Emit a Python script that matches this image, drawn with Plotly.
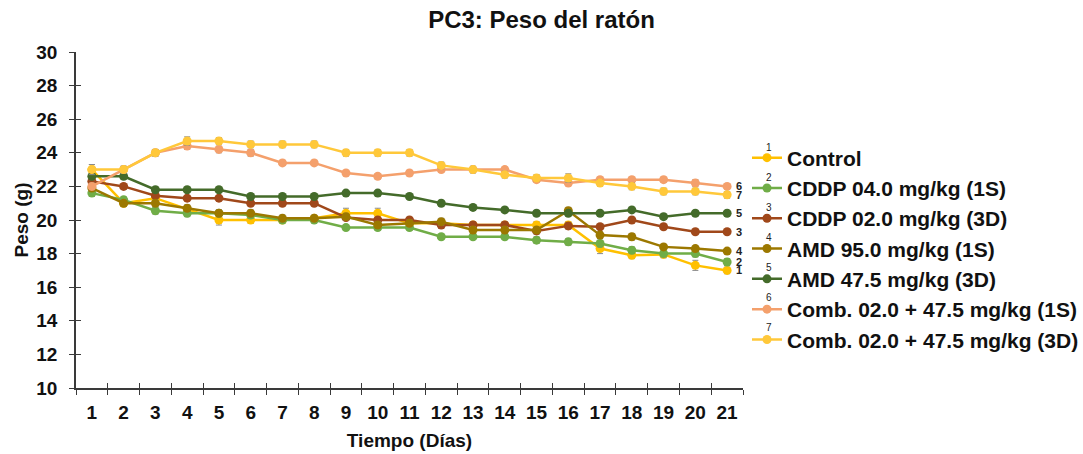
import plotly.graph_objects as go

# Days of treatment
days = [str(d) for d in range(1, 22)]

# Mean body weight (g) per group
control = [23.0, 21.0, 21.3, 20.65, 20.0, 20.0, 20.0, 20.1, 20.4, 20.4, 19.8,
           19.8, 19.7, 19.7, 19.7, 19.7, 18.3, 17.9, 17.95, 17.3, 17.0]
cddp_40_1s = [21.6, 21.2, 20.55, 20.4, 20.4, 20.3, 20.0, 20.0, 19.55, 19.55, 19.55,
              19.0, 19.0, 19.0, 18.8, 18.7, 18.6, 18.2, 18.0, 18.0, 17.5]
cddp_20_3d = [22.3, 22.0, 21.45, 21.3, 21.3, 21.0, 21.0, 21.0, 20.15, 20.0, 20.0,
              19.7, 19.7, 19.7, 19.35, 19.65, 19.6, 20.0, 19.6, 19.3, 19.3]
amd_950_1s = [21.9, 21.0, 21.0, 20.7, 20.4, 20.4, 20.1, 20.1, 20.2, 19.7, 19.8,
              19.9, 19.4, 19.4, 19.4, 20.55, 19.1, 19.0, 18.4, 18.3, 18.15]
amd_475_3d = [22.6, 22.6, 21.8, 21.8, 21.8, 21.4, 21.4, 21.4, 21.6, 21.6, 21.4,
              21.0, 20.75, 20.6, 20.4, 20.4, 20.4, 20.6, 20.2, 20.4, 20.4]
comb_1s = [22.0, 23.0, 24.0, 24.4, 24.2, 24.0, 23.4, 23.4, 22.8, 22.6, 22.8,
           23.0, 23.0, 23.0, 22.4, 22.2, 22.4, 22.4, 22.4, 22.2, 22.0]
comb_3d = [23.0, 23.0, 24.0, 24.7, 24.7, 24.5, 24.5, 24.5, 24.0, 24.0, 24.0,
           23.25, 23.0, 22.7, 22.5, 22.5, 22.2, 22.0, 21.7, 21.7, 21.5]

# Standard error per group
err_control = [0.3, 0.2, 0.15, 0.2, 0.3, 0.2, 0.15, 0.15, 0.3, 0.3, 0.2,
               0.2, 0.2, 0.2, 0.2, 0.2, 0.3, 0.2, 0.2, 0.3, 0.2]
err_cddp_40 = [0.2, 0.2, 0.2, 0.2, 0.2, 0.2, 0.15, 0.15, 0.15, 0.15, 0.15,
               0.15, 0.15, 0.15, 0.2, 0.2, 0.2, 0.2, 0.2, 0.2, 0.2]
err_cddp_20 = [0.2, 0.15, 0.15, 0.15, 0.15, 0.15, 0.15, 0.15, 0.15, 0.15, 0.15,
               0.2, 0.2, 0.2, 0.2, 0.2, 0.15, 0.15, 0.15, 0.15, 0.15]
err_amd_950 = [0.2, 0.2, 0.2, 0.2, 0.2, 0.2, 0.2, 0.2, 0.2, 0.2, 0.2,
               0.2, 0.2, 0.2, 0.2, 0.2, 0.2, 0.2, 0.15, 0.15, 0.15]
err_amd_475 = [0.2, 0.15, 0.15, 0.15, 0.15, 0.15, 0.15, 0.15, 0.15, 0.15, 0.15,
               0.15, 0.15, 0.15, 0.15, 0.15, 0.15, 0.15, 0.15, 0.15, 0.15]
err_comb_1s = [0.2, 0.2, 0.2, 0.2, 0.2, 0.2, 0.15, 0.15, 0.15, 0.15, 0.15,
               0.15, 0.15, 0.15, 0.15, 0.15, 0.15, 0.15, 0.15, 0.2, 0.15]
err_comb_3d = [0.3, 0.2, 0.2, 0.25, 0.2, 0.2, 0.2, 0.2, 0.2, 0.2, 0.2,
               0.2, 0.2, 0.2, 0.2, 0.25, 0.2, 0.2, 0.2, 0.2, 0.2]

groups = [
    ("Control", control, err_control, "#FFC000", "1"),
    ("CDDP 04.0 mg/kg (1S)", cddp_40_1s, err_cddp_40, "#70AD47", "2"),
    ("CDDP 02.0 mg/kg (3D)", cddp_20_3d, err_cddp_20, "#A0481A", "3"),
    ("AMD 95.0 mg/kg (1S)", amd_950_1s, err_amd_950, "#9C7800", "4"),
    ("AMD 47.5 mg/kg (3D)", amd_475_3d, err_amd_475, "#446B2A", "5"),
    ("Comb. 02.0 + 47.5 mg/kg (1S)", comb_1s, err_comb_1s, "#F4A06C", "6"),
    ("Comb. 02.0 + 47.5 mg/kg (3D)", comb_3d, err_comb_3d, "#FFC83A", "7"),
]

FONT = "Liberation Sans, Arial, sans-serif"
AXIS = "#3a3a3a"

# Figure geometry (pixels)
W, H = 1083, 454
ML, MR, MT, MB = 76, 340, 52, 66
PW, PH = W - ML - MR, H - MT - MB

# Category span with the ticks on the boundaries
x_range = [-0.5, len(days) - 0.5]


def to_paper(px, py):
    return (px - ML) / PW, (H - MB - py) / PH


fig = go.Figure()
for name, vals, err, color, tag in groups:
    fig.add_trace(go.Scatter(
        x=days, y=vals, name=f"<b>{name}</b>", mode="lines+markers",
        line=dict(color=color, width=2.5),
        marker=dict(color=color, size=9, symbol="circle"),
        error_y=dict(type="data", array=err, color="#8a8a8a",
                     thickness=1, width=3),
    ))

annotations = []
# Group number at the end of each line
last = len(days) - 1
for name, vals, err, color, tag in groups:
    annotations.append(dict(
        x=last, y=vals[-1], xref="x", yref="y", text=f"<b>{tag}</b>",
        showarrow=False, xanchor="left", xshift=7,
        font=dict(family=FONT, size=11, color="#222222"),
    ))

# Small group numbers above the legend symbols
legend_rows = [159, 189, 219, 249, 279, 309, 339]
for (name, vals, err, color, tag), yp in zip(groups, legend_rows):
    ax, ay = to_paper(769, yp - 12)
    annotations.append(dict(
        x=ax, y=ay, xref="paper", yref="paper",
        text=tag, showarrow=False, xanchor="center", yanchor="middle",
        font=dict(family=FONT, size=10, color="#222222"),
    ))

lx, ly = to_paper(747, 249)

fig.update_layout(
    width=W, height=H,
    margin=dict(l=ML, r=MR, t=MT, b=MB, autoexpand=False),
    paper_bgcolor="white", plot_bgcolor="white",
    font=dict(family=FONT, color="#111111"),
    title=dict(text="<b>PC3: Peso del ratón</b>", x=0.5, xref="container",
               y=1 - 20 / H, yref="container", yanchor="middle",
               font=dict(family=FONT, size=24, color="#111111")),
    showlegend=True,
    legend=dict(x=lx, xanchor="left", y=ly, yanchor="middle",
                font=dict(family=FONT, size=21, color="#111111"),
                itemwidth=30, tracegroupgap=0, bgcolor="rgba(0,0,0,0)"),
    xaxis=dict(
        type="category", range=x_range, tickson="boundaries", ticks="outside",
        ticklen=5, tickcolor=AXIS, tickwidth=1.3, showline=True,
        linecolor=AXIS, linewidth=1.5, showgrid=False, zeroline=False,
        tickangle=0, ticklabelstandoff=6,
        tickfont=dict(family=FONT, size=19, color="#111111", weight="bold"),
        title=dict(text="<b>Tiempo (Días)</b>", standoff=12,
                   font=dict(family=FONT, size=19, color="#111111")),
    ),
    yaxis=dict(
        range=[10, 30], tickvals=list(range(10, 31, 2)), ticks="outside",
        ticklen=5, tickcolor=AXIS, tickwidth=1.3, showline=True,
        linecolor=AXIS, linewidth=1.5, showgrid=False, zeroline=False,
        ticklabelstandoff=8,
        tickfont=dict(family=FONT, size=19, color="#111111", weight="bold"),
        title=dict(text="<b>Peso (g)</b>", standoff=3,
                   font=dict(family=FONT, size=19, color="#111111")),
    ),
    # Overlay axes supply the inner half of the crossing tick marks
    xaxis2=dict(overlaying="x", anchor="y", side="bottom", range=x_range,
                tickvals=[i - 0.5 for i in range(len(days) + 1)],
                ticks="inside", ticklen=5, tickcolor=AXIS, tickwidth=1.3,
                showticklabels=False, showgrid=False, zeroline=False,
                showline=False),
    yaxis2=dict(overlaying="y", anchor="x", side="left", range=[10, 30],
                tickvals=list(range(10, 31, 2)), ticks="inside", ticklen=5,
                tickcolor=AXIS, tickwidth=1.3, showticklabels=False,
                showgrid=False, zeroline=False, showline=False),
    annotations=annotations,
)

fig.add_trace(go.Scatter(x=[], y=[], xaxis="x2", yaxis="y2",
                         showlegend=False, hoverinfo="skip"))

fig.write_html("out.html")
